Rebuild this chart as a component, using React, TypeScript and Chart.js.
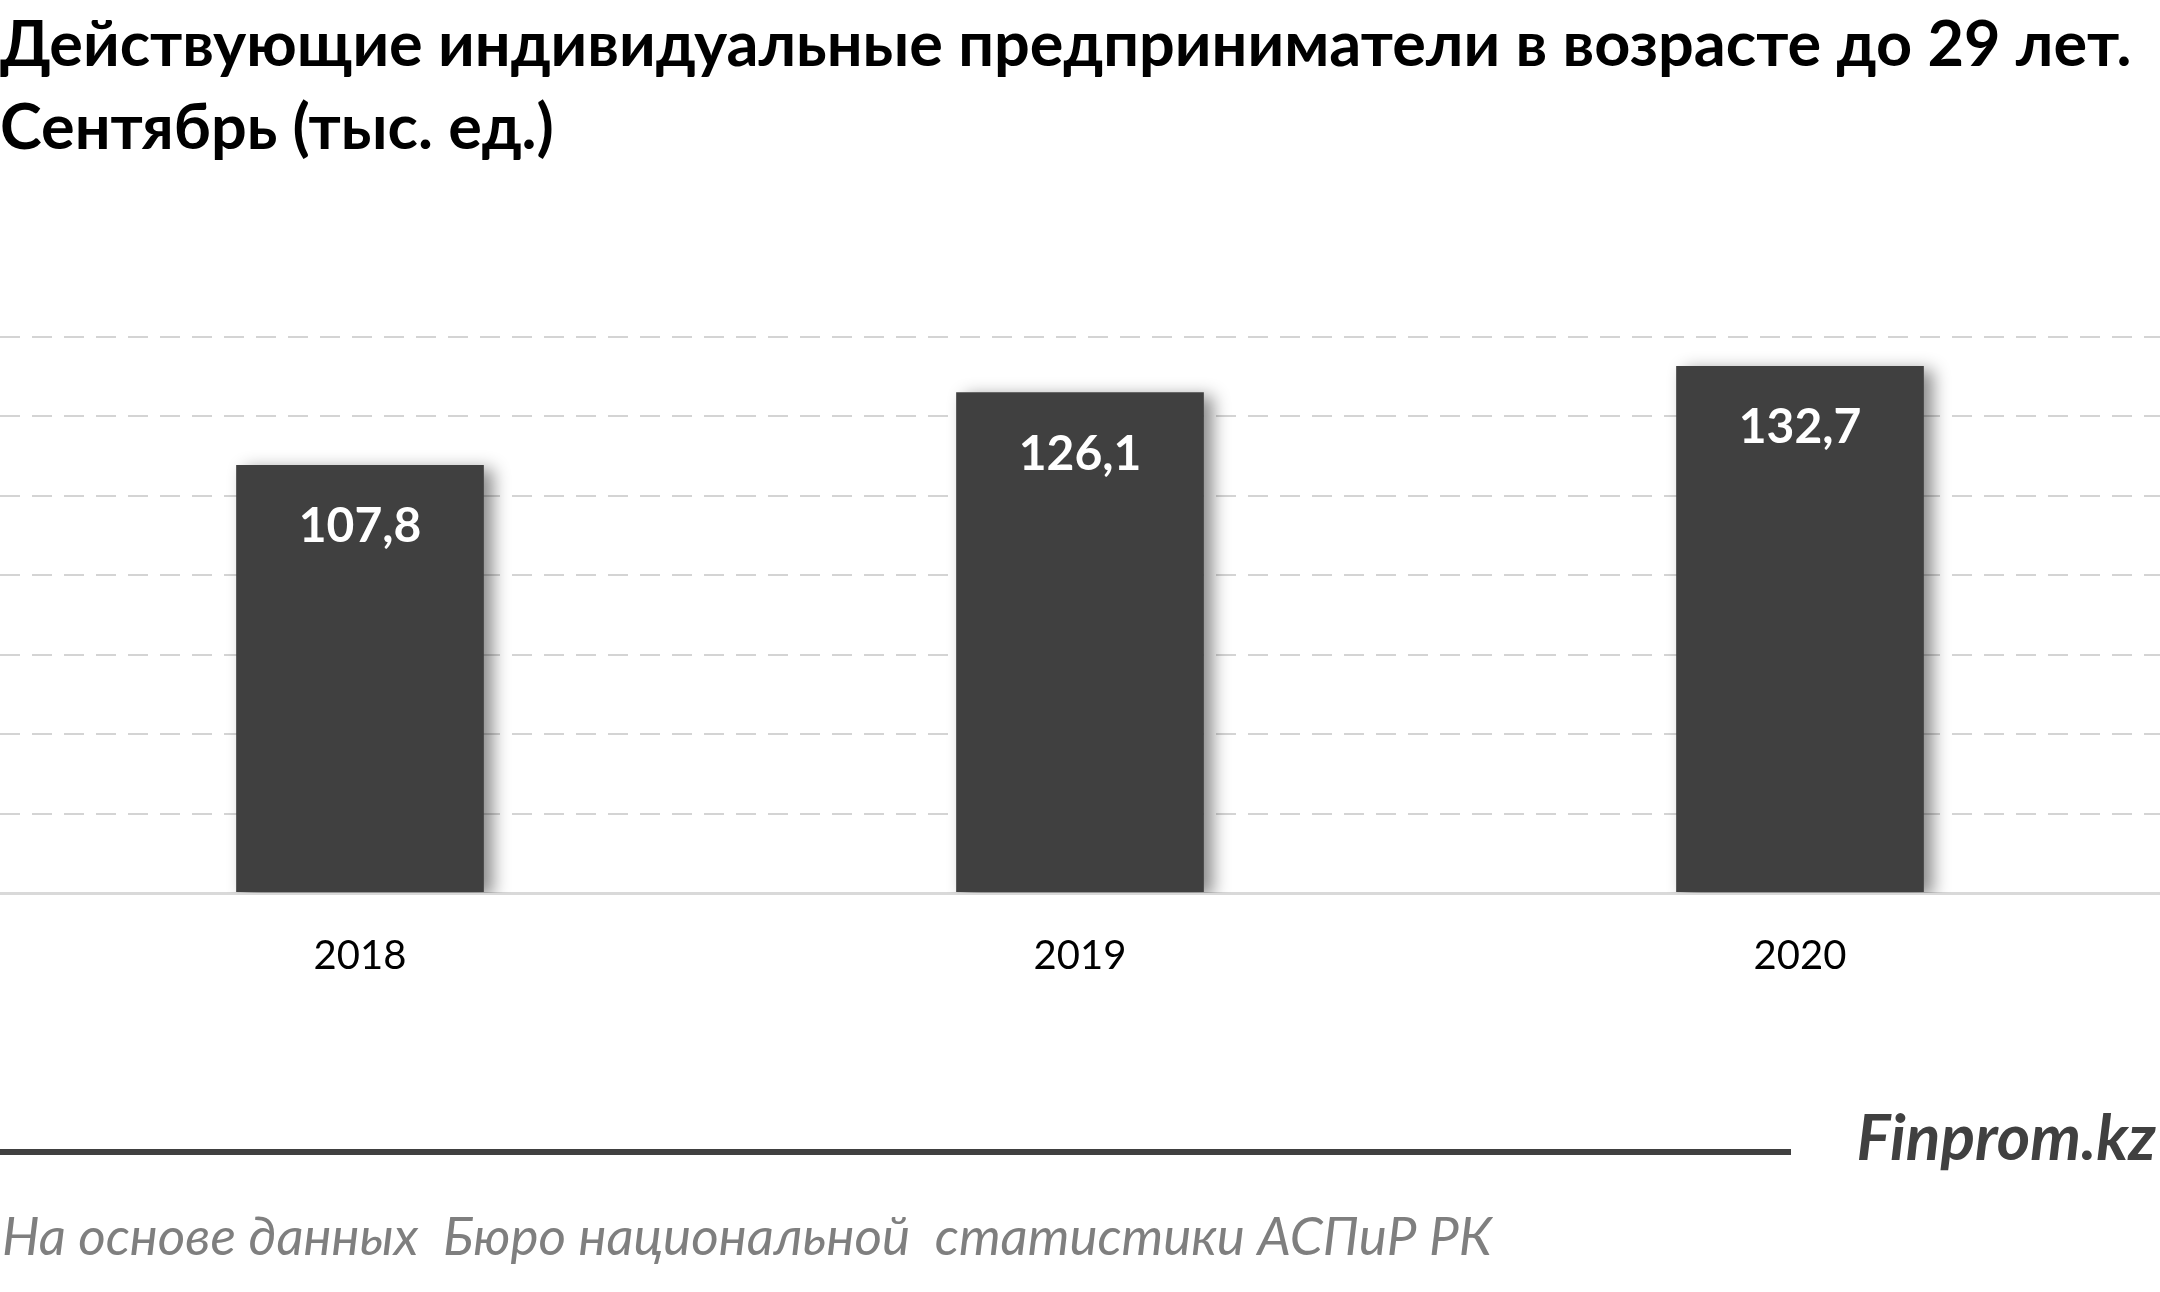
import React, { useEffect, useRef } from "react";
import { Chart, registerables } from "chart.js";

Chart.register(...registerables);

const categories = ["2018", "2019", "2020"];
const values = [107.8, 126.1, 132.7];
const valueLabels = ["107,8", "126,1", "132,7"];
const titleLines = [
  "Действующие индивидуальные предприниматели в возрасте до 29 лет.",
  "Сентябрь (тыс. ед.)",
];
const brand = "Finprom.kz";
const source = "На основе данных  Бюро национальной  статистики АСПиР РК";
const yMin = 0;
const yMax = 140;
const yStep = 20;

const W = 2160;
const H = 1292;

const shadowPlugin = {
  id: "barShadow",
  beforeDatasetDraw(chart: any) {
    const ctx = chart.ctx;
    ctx.save();
    ctx.shadowColor = "rgba(0,0,0,0.45)";
    ctx.shadowBlur = 16;
    ctx.shadowOffsetX = 9;
    ctx.shadowOffsetY = 4;
  },
  afterDatasetDraw(chart: any) {
    chart.ctx.restore();
  },
};

const labelPlugin = {
  id: "valueLabels",
  afterDatasetsDraw(chart: any) {
    const ctx = chart.ctx;
    const meta = chart.getDatasetMeta(0);
    ctx.save();
    ctx.fillStyle = "#ffffff";
    ctx.font = "bold 48px Lato";
    ctx.textAlign = "center";
    ctx.textBaseline = "middle";
    meta.data.forEach((bar: any, i: number) => {
      ctx.fillText(valueLabels[i], bar.x, bar.y + 62);
    });
    ctx.restore();
  },
};

const footerPlugin = {
  id: "footer",
  afterDraw(chart: any) {
    const ctx = chart.ctx;
    ctx.save();
    ctx.fillStyle = "#404040";
    ctx.fillRect(0, 1149, 1791, 6);
    ctx.font = "italic bold 64px Lato";
    ctx.textAlign = "right";
    ctx.textBaseline = "alphabetic";
    ctx.fillStyle = "#404040";
    ctx.fillText(brand, 2156, 1160);
    ctx.font = "italic 53px Lato";
    ctx.textAlign = "left";
    ctx.fillStyle = "#7f7f7f";
    ctx.fillText(source, 2, 1255);
    ctx.restore();
  },
};

export default function App() {
  const ref = useRef<HTMLCanvasElement | null>(null);

  useEffect(() => {
    document.body.style.margin = "0";
    const canvas = ref.current;
    if (!canvas) return;
    const chart = new Chart(canvas, {
      type: "bar",
      data: {
        labels: categories,
        datasets: [
          {
            data: values,
            backgroundColor: "#404040",
            borderWidth: 0,
            barPercentage: 0.344,
            categoryPercentage: 1,
          },
        ],
      },
      options: {
        responsive: false,
        animation: false,
        devicePixelRatio: 1,
        layout: { padding: 0 },
        plugins: {
          legend: { display: false },
          tooltip: { enabled: false },
          title: {
            display: true,
            text: titleLines,
            align: "start",
            color: "#000000",
            font: { family: "Lato", size: 63, weight: "bold", lineHeight: 83 / 63 },
            padding: { top: 4, bottom: 167 },
          },
        },
        scales: {
          x: {
            grid: { display: false },
            border: { display: true, color: "#d9d9d9", width: 3 },
            ticks: {
              color: "#000000",
              font: { family: "Lato", size: 40 },
              padding: 31,
            },
            afterFit: (s: any) => {
              s.height = 399;
            },
          },
          y: {
            min: yMin,
            max: yMax,
            ticks: { display: false, stepSize: yStep },
            grid: {
              drawTicks: false,
              lineWidth: 2,
              color: (c: any) => (c.tick && c.tick.value === 0 ? "rgba(0,0,0,0)" : "#d4d4d4"),
            },
            border: { display: false, dash: [20, 12] },
            afterFit: (s: any) => {
              s.width = 0;
            },
          },
        },
      },
      plugins: [shadowPlugin, labelPlugin, footerPlugin],
    } as any);
    return () => chart.destroy();
  }, []);

  return (
    <canvas
      ref={ref}
      width={W}
      height={H}
      style={{ display: "block", width: W + "px", height: H + "px" }}
    />
  );
}
